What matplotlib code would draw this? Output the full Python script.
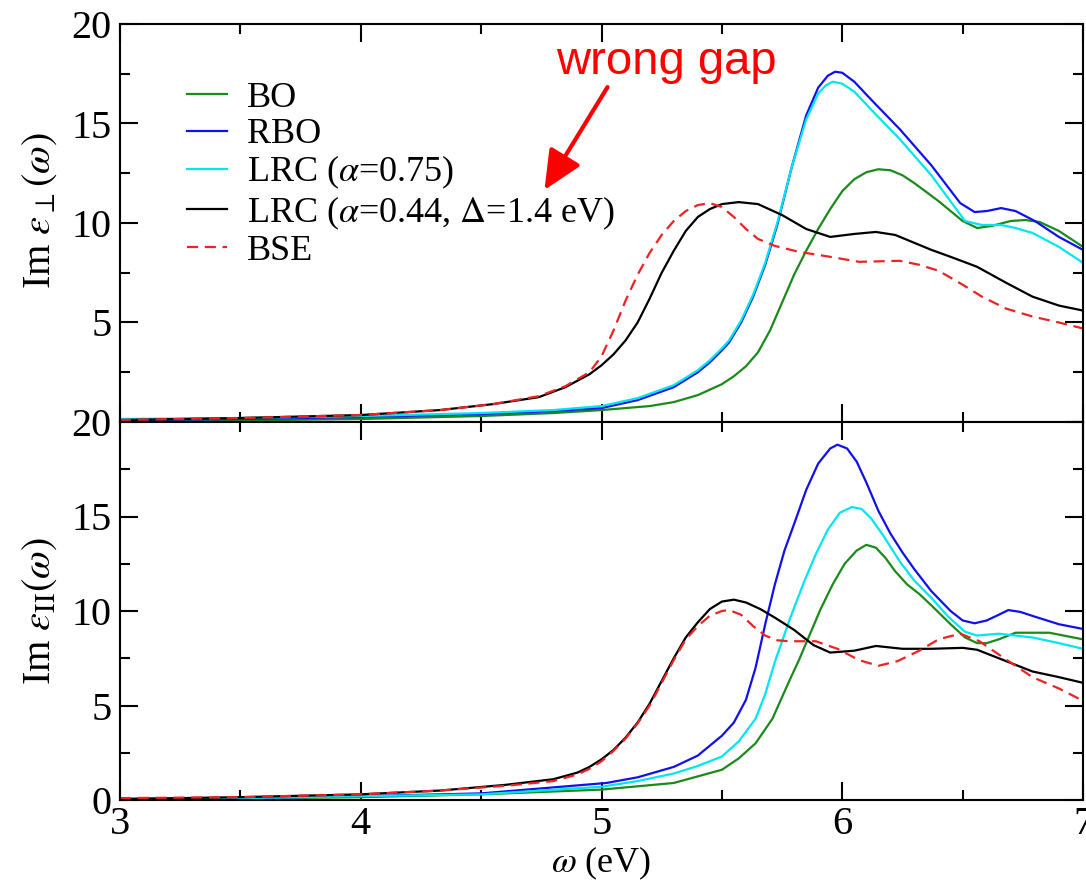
import matplotlib
matplotlib.use("Agg")
import matplotlib.pyplot as plt
from matplotlib.ticker import MultipleLocator

plt.rcParams['font.family'] = ['Liberation Serif', 'DejaVu Serif']
plt.rcParams['mathtext.fontset'] = 'stix'

# ---- top panel (perpendicular) ----
x_bo_t = [3.0, 3.5, 4.0, 4.5, 4.8, 5.0, 5.2, 5.3, 5.4, 5.5, 5.55, 5.6, 5.65, 5.7, 5.75, 5.8, 5.85, 5.9, 5.95, 6.0, 6.05, 6.1, 6.15, 6.2, 6.25, 6.3, 6.4, 6.5, 6.56, 6.62, 6.7, 6.76, 6.82, 6.9, 7.0]
y_bo_t = [0.05, 0.08, 0.15, 0.3, 0.45, 0.6, 0.8, 1.0, 1.35, 1.9, 2.3, 2.8, 3.5, 4.6, 6.0, 7.4, 8.6, 9.7, 10.7, 11.6, 12.2, 12.55, 12.7, 12.65, 12.4, 12.0, 11.1, 10.1, 9.75, 9.85, 10.1, 10.15, 10.05, 9.6, 8.8]

x_rbo_t = [3.0, 3.5, 4.0, 4.5, 4.8, 5.0, 5.15, 5.3, 5.4, 5.45, 5.5, 5.53, 5.58, 5.63, 5.68, 5.73, 5.79, 5.85, 5.9, 5.94, 5.97, 6.0, 6.05, 6.12, 6.24, 6.37, 6.49, 6.55, 6.6, 6.66, 6.72, 6.8, 6.9, 7.0]
y_rbo_t = [0.1, 0.15, 0.25, 0.4, 0.55, 0.7, 1.1, 1.75, 2.5, 3.0, 3.6, 4.0, 5.0, 6.3, 7.9, 9.9, 12.8, 15.4, 16.8, 17.4, 17.6, 17.55, 17.1, 16.2, 14.7, 12.9, 11.0, 10.55, 10.6, 10.75, 10.6, 10.1, 9.3, 8.65]

x_lrc1_t = [3.0, 3.5, 4.0, 4.5, 4.8, 5.0, 5.15, 5.3, 5.4, 5.45, 5.5, 5.53, 5.58, 5.63, 5.68, 5.73, 5.79, 5.85, 5.9, 5.93, 5.96, 6.0, 6.05, 6.12, 6.24, 6.37, 6.51, 6.58, 6.66, 6.72, 6.79, 6.9, 7.0]
y_lrc1_t = [0.15, 0.2, 0.3, 0.45, 0.6, 0.8, 1.2, 1.85, 2.6, 3.1, 3.7, 4.1, 5.1, 6.4, 8.0, 10.0, 12.8, 15.2, 16.5, 16.9, 17.1, 17.0, 16.6, 15.7, 14.2, 12.4, 10.1, 9.9, 9.9, 9.75, 9.5, 8.8, 8.0]

x_lrc2_t = [3.0, 3.5, 4.0, 4.33, 4.55, 4.74, 4.85, 4.95, 5.0, 5.05, 5.1, 5.15, 5.2, 5.25, 5.3, 5.35, 5.4, 5.45, 5.5, 5.57, 5.65, 5.75, 5.85, 5.95, 6.05, 6.14, 6.22, 6.3, 6.37, 6.45, 6.56, 6.68, 6.79, 6.9, 7.0]
y_lrc2_t = [0.1, 0.2, 0.35, 0.6, 0.9, 1.25, 1.75, 2.4, 2.85, 3.4, 4.1, 5.0, 6.2, 7.5, 8.6, 9.6, 10.3, 10.7, 10.95, 11.05, 10.95, 10.4, 9.7, 9.3, 9.45, 9.55, 9.4, 9.0, 8.65, 8.3, 7.8, 7.0, 6.3, 5.85, 5.6]

x_bse_t = [3.0, 3.5, 4.0, 4.33, 4.55, 4.74, 4.85, 4.95, 5.0, 5.05, 5.1, 5.15, 5.2, 5.25, 5.3, 5.35, 5.4, 5.45, 5.5, 5.55, 5.6, 5.65, 5.72, 5.82, 5.95, 6.07, 6.24, 6.32, 6.4, 6.5, 6.58, 6.68, 6.79, 6.9, 7.0]
y_bse_t = [0.1, 0.2, 0.35, 0.6, 0.9, 1.3, 1.8, 2.5, 3.3, 4.6, 6.1, 7.4, 8.5, 9.4, 10.1, 10.6, 10.9, 11.0, 10.8, 10.3, 9.7, 9.2, 8.85, 8.55, 8.3, 8.05, 8.1, 7.9, 7.6, 6.9, 6.3, 5.7, 5.3, 5.0, 4.7]

# ---- bottom panel (parallel) ----
x_bo_b = [3.0, 3.5, 4.0, 4.5, 5.0, 5.3, 5.5, 5.57, 5.64, 5.71, 5.78, 5.82, 5.86, 5.91, 5.96, 6.01, 6.06, 6.1, 6.14, 6.18, 6.22, 6.27, 6.32, 6.37, 6.45, 6.51, 6.56, 6.6, 6.65, 6.72, 6.86, 7.0]
y_bo_b = [0.05, 0.08, 0.15, 0.3, 0.55, 0.9, 1.6, 2.2, 3.0, 4.3, 6.3, 7.4, 8.6, 10.1, 11.4, 12.5, 13.2, 13.5, 13.35, 12.8, 12.1, 11.4, 10.9, 10.3, 9.3, 8.6, 8.3, 8.3, 8.5, 8.85, 8.85, 8.5]

x_rbo_b = [3.0, 3.5, 4.0, 4.5, 5.02, 5.15, 5.3, 5.4, 5.5, 5.55, 5.6, 5.64, 5.68, 5.72, 5.76, 5.8, 5.85, 5.9, 5.95, 5.98, 6.02, 6.06, 6.1, 6.15, 6.2, 6.25, 6.3, 6.37, 6.45, 6.5, 6.55, 6.6, 6.65, 6.69, 6.74, 6.8, 6.9, 7.0]
y_rbo_b = [0.05, 0.1, 0.2, 0.35, 0.9, 1.2, 1.75, 2.35, 3.4, 4.1, 5.3, 7.0, 9.3, 11.4, 13.2, 14.6, 16.4, 17.8, 18.6, 18.8, 18.6, 17.9, 16.8, 15.3, 14.1, 13.1, 12.2, 11.05, 10.0, 9.5, 9.35, 9.5, 9.8, 10.05, 9.95, 9.7, 9.3, 9.05]

x_lrc1_b = [3.0, 3.5, 4.0, 4.5, 5.0, 5.15, 5.3, 5.4, 5.5, 5.57, 5.64, 5.68, 5.72, 5.78, 5.84, 5.89, 5.94, 5.99, 6.04, 6.08, 6.12, 6.17, 6.24, 6.3, 6.37, 6.44, 6.51, 6.56, 6.65, 6.79, 6.9, 7.0]
y_lrc1_b = [0.05, 0.1, 0.2, 0.3, 0.7, 1.0, 1.4, 1.8, 2.3, 3.1, 4.3, 5.6, 7.3, 9.5, 11.5, 13.0, 14.3, 15.2, 15.5, 15.4, 14.9, 14.0, 12.6, 11.6, 10.7, 9.7, 8.9, 8.7, 8.8, 8.6, 8.3, 8.0]

x_lrc2_b = [3.0, 3.5, 4.0, 4.33, 4.6, 4.8, 4.9, 4.95, 5.0, 5.05, 5.1, 5.15, 5.2, 5.25, 5.3, 5.35, 5.4, 5.45, 5.5, 5.55, 5.6, 5.66, 5.72, 5.8, 5.88, 5.95, 6.05, 6.14, 6.25, 6.37, 6.5, 6.56, 6.65, 6.79, 6.9, 7.0]
y_lrc2_b = [0.05, 0.15, 0.3, 0.5, 0.8, 1.1, 1.45, 1.75, 2.15, 2.65, 3.3, 4.1, 5.1, 6.3, 7.5, 8.6, 9.4, 10.1, 10.5, 10.6, 10.45, 10.1, 9.65, 9.0, 8.2, 7.8, 7.9, 8.15, 8.0, 8.0, 8.05, 7.95, 7.5, 6.8, 6.5, 6.2]

x_bse_b = [3.0, 3.5, 4.0, 4.33, 4.6, 4.8, 4.9, 4.95, 5.0, 5.05, 5.1, 5.15, 5.2, 5.25, 5.3, 5.35, 5.4, 5.45, 5.5, 5.53, 5.58, 5.63, 5.68, 5.73, 5.78, 5.89, 5.98, 6.07, 6.15, 6.23, 6.32, 6.4, 6.49, 6.57, 6.65, 6.79, 6.9, 7.0]
y_bse_b = [0.1, 0.15, 0.3, 0.5, 0.75, 1.0, 1.35, 1.65, 2.05, 2.6, 3.25, 4.05, 5.0, 6.2, 7.4, 8.5, 9.2, 9.75, 10.0, 10.05, 9.8, 9.2, 8.7, 8.45, 8.4, 8.4, 8.0, 7.4, 7.1, 7.35, 7.9, 8.5, 8.8, 8.4, 7.7, 6.5, 5.9, 5.25]

labels = ["BO", "RBO", r"LRC ($\alpha$=0.75)", r"LRC ($\alpha$=0.44, $\Delta$=1.4 eV)", "BSE"]
colors = ["#1a8a1a", "#1010ee", "#00e5ee", "black", "#ee2222"]
styles = ["-", "-", "-", "-", "--"]

top_data = [(x_bo_t, y_bo_t), (x_rbo_t, y_rbo_t), (x_lrc1_t, y_lrc1_t), (x_lrc2_t, y_lrc2_t), (x_bse_t, y_bse_t)]
bot_data = [(x_bo_b, y_bo_b), (x_rbo_b, y_rbo_b), (x_lrc1_b, y_lrc1_b), (x_lrc2_b, y_lrc2_b), (x_bse_b, y_bse_b)]

W, H = 1086, 885
fig = plt.figure(figsize=(W / 100, H / 100), dpi=100)
ax1 = fig.add_axes([120 / W, 1 - 422 / H, 963 / W, 398 / H])
ax2 = fig.add_axes([120 / W, 1 - 800 / H, 963 / W, 378 / H])

for ax, data in [(ax1, top_data), (ax2, bot_data)]:
    for (xs, ys), lab, c, ls in zip(data, labels, colors, styles):
        if ls == "--":
            ax.plot(xs, ys, color=c, lw=1.6, label=lab, ls=(0, (5, 3)))
        else:
            ax.plot(xs, ys, color=c, lw=1.6, label=lab)
    ax.set_xlim(3, 7)
    ax.set_ylim(0, 20)
    ax.xaxis.set_major_locator(MultipleLocator(1))
    ax.xaxis.set_minor_locator(MultipleLocator(0.5))
    ax.yaxis.set_major_locator(MultipleLocator(5))
    ax.yaxis.set_minor_locator(MultipleLocator(2.5))
    ax.tick_params(which='both', direction='in', top=True, right=True, width=1.5, labelsize=29)
    ax.tick_params(which='major', length=13)
    ax.tick_params(which='minor', length=7)
    for s in ax.spines.values():
        s.set_linewidth(1.5)

ax1.set_xticklabels([])
ax1.set_yticks([5, 10, 15, 20])
ax1.tick_params(axis='y', which='major', pad=6)
ax2.tick_params(axis='y', which='major', pad=6)
ax2.tick_params(axis='x', which='major', pad=4)

ax1.set_ylabel(r"Im $\varepsilon_{\perp}(\omega)$", fontsize=29)
ax2.set_ylabel(r"Im $\varepsilon_{\mathrm{II}}(\omega)$", fontsize=29)
ax1.yaxis.set_label_coords(-0.083, 0.53)
ax2.yaxis.set_label_coords(-0.083, 0.5)
ax2.set_xlabel(r"$\omega$ (eV)", fontsize=26)
ax2.xaxis.set_label_coords(0.5, -0.168)
ax2.xaxis.label.set_va('center')
ax1.yaxis.label.set_va('center')
ax2.yaxis.label.set_va('center')

leg = ax1.legend(loc='upper left', bbox_to_anchor=(0.07, 0.855), frameon=False, fontsize=26,
                 handlelength=1.1, handletextpad=0.55, labelspacing=0.08, borderpad=0, borderaxespad=0)

ax1.text(5.27, 18.1, "wrong gap", color='red', fontsize=34, family='Liberation Sans',
         ha='center', va='center')
ax1.annotate("", xy=(4.763, 11.66), xytext=(5.025, 16.83),
             arrowprops=dict(arrowstyle='-|>,head_length=1.2,head_width=0.55', color='red', lw=3,
                             mutation_scale=20, shrinkA=0, shrinkB=0))

fig.savefig("out.png", dpi=100)
